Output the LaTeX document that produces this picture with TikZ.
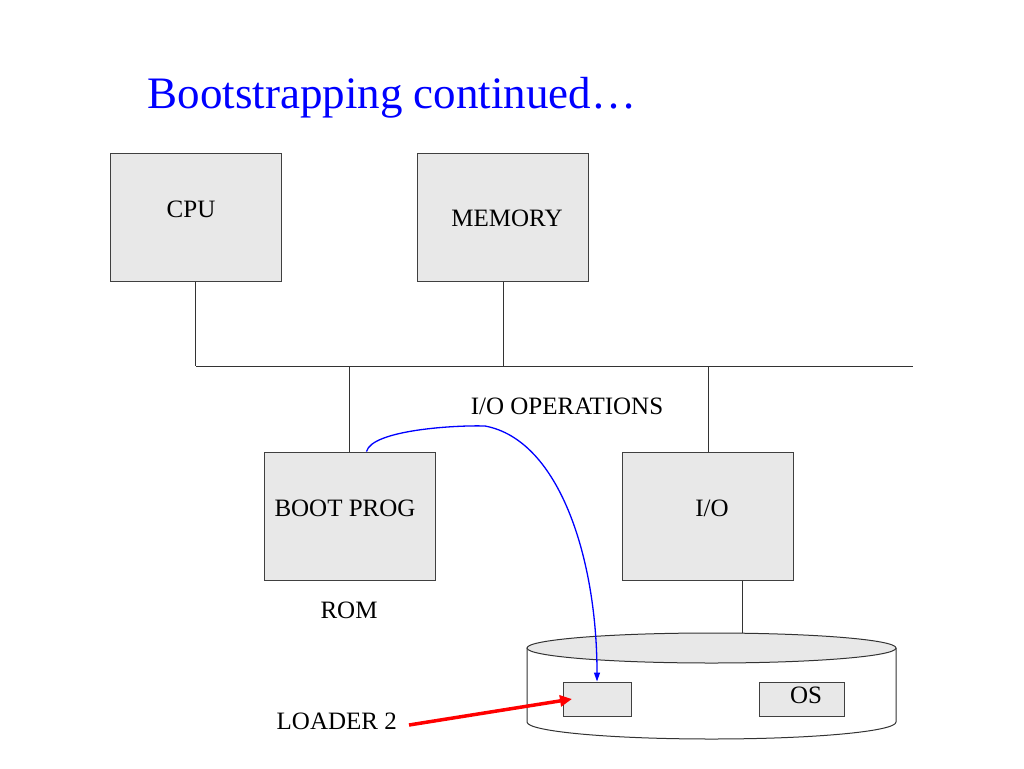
\documentclass[tikz,border=0pt]{standalone}
\usepackage{fontspec}
\setmainfont{Liberation Serif}
\usetikzlibrary{arrows.meta}
\tikzset{
  box/.style={draw=black!75, line width=1pt, fill=black!9, minimum width=171pt, minimum height=128pt, inner sep=0pt},
  smallbox/.style={draw=black!75, line width=1pt, fill=black!9, minimum height=34pt, inner sep=0pt},
  lbl/.style={font=\fontsize{25}{30}\selectfont, inner sep=0pt},
  wire/.style={black!80, line width=1pt}
}
\begin{document}
\begin{tikzpicture}[x=1pt,y=-1pt]
    \useasboundingbox (0,0) rectangle (1024,768);
    \node[font=\fontsize{45}{50}\selectfont, text=blue, inner sep=0pt] (title) at (392,98) {Bootstrapping continued\dots};

    \node[box] (cpu) at (195.5,217) {};
    \node[box] (memory) at (503,217) {};
    \node[box] (bootprog) at (349.5,516) {};
    \node[box] (io) at (708,516) {};
    \node[lbl] (cpulbl) at (191,209) {CPU};
    \node[lbl] (memorylbl) at (507,218) {MEMORY};
    \node[lbl] (bootproglbl) at (345,508) {BOOT PROG};
    \node[lbl] (iolbl) at (712,508) {I/O};
    \node[lbl] (romlbl) at (349,610) {ROM};
    \node[lbl] (opslbl) at (567,406) {I/O OPERATIONS};

    \coordinate (busl) at (196,366);
    \coordinate (busr) at (913,366);
    \draw[wire] (busl) -- (busr);
    \draw[wire] (cpu.south) -- (cpu.south |- busl);
    \draw[wire] (memory.south) -- (memory.south |- busl);
    \draw[wire] (bootprog.north) -- (bootprog.north |- busl);
    \draw[wire] (io.north) -- (io.north |- busl);

    \draw[wire, fill=white] (527,648) -- (527,722) arc (180:0:184.5 and 17) -- (896,648);
    \draw[wire, fill=black!9] (711.5,648) ellipse (184.5 and 15);
    \draw[wire] ([xshift=34pt]io.south) -- (742,633);

    \node[smallbox, minimum width=68pt] (loader) at (597,699) {};
    \node[smallbox, minimum width=85pt] (os) at (801.5,699) {};
    \node[lbl] (oslbl) at (806,695) {OS};
    \node[lbl, anchor=east] (loaderlbl) at (397,721) {LOADER 2};

    \draw[blue, line width=1.3pt, -{Triangle[length=9pt,width=6pt]}] ([xshift=17pt]bootprog.north) .. controls (372,430) and (455,425) .. (485,426) .. controls (560,440) and (597,560) .. (loader.north);
    \draw[red, line width=3.5pt, -{Triangle[length=12pt,width=11pt]}] ([xshift=12pt,yshift=-4pt]loaderlbl.east) -- ([xshift=-25pt]loader.center);
\end{tikzpicture}
\end{document}
